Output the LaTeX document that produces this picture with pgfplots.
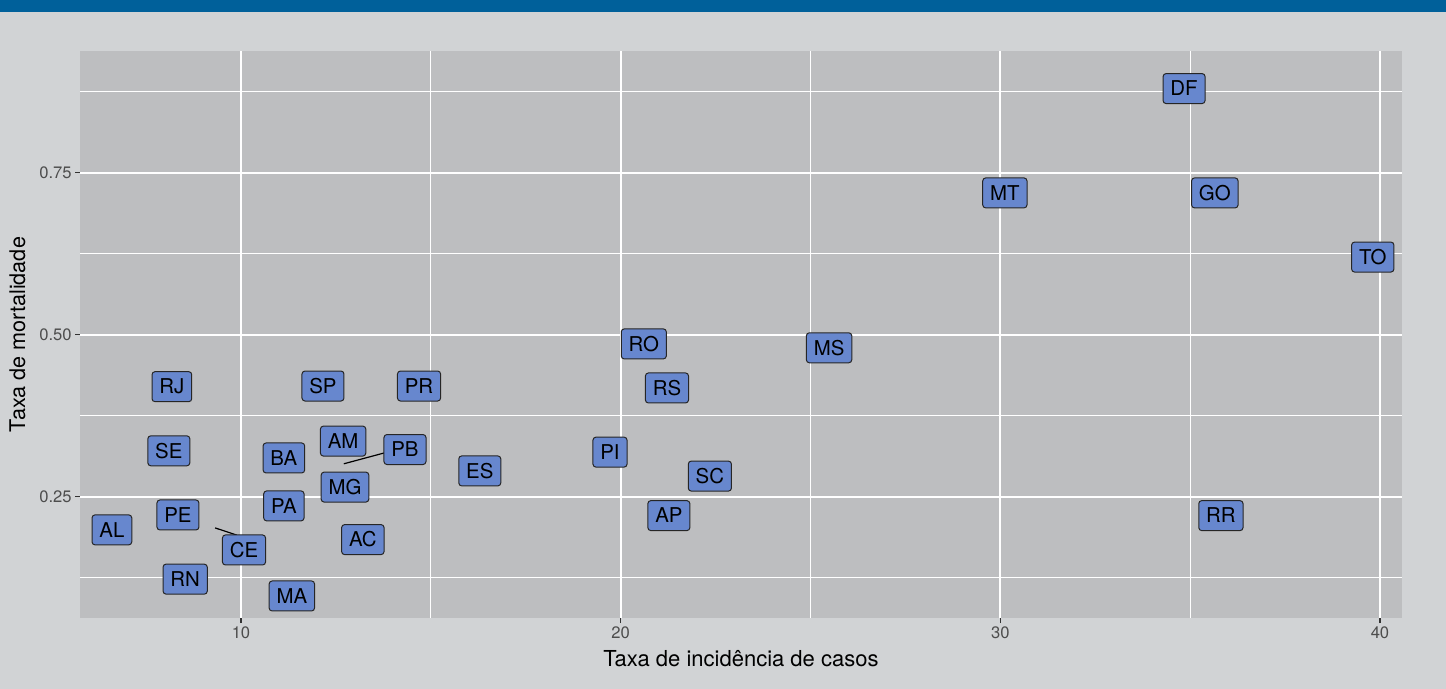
\documentclass[border=0pt]{standalone}
\usepackage{pgfplots}
\pgfplotsset{compat=1.18}
\usepackage{fontspec}
\setmainfont{TeX Gyre Heros}
\definecolor{bgout}{RGB}{209,211,213}
\definecolor{panel}{RGB}{189,190,192}
\definecolor{barblue}{RGB}{0,96,154}
\definecolor{lblue}{RGB}{103,135,206}
\definecolor{ticktext}{RGB}{77,77,77}

\begin{document}
\begin{tikzpicture}
  % page background and top bar (1 px of the reference = 0.5pt)
  \fill[bgout] (0,0) rectangle (723pt,-344.5pt);
  \fill[barblue] (0,0) rectangle (723pt,-6pt);
  \begin{axis}[
      at={(40pt,-25.5pt)}, anchor=north west,
      scale only axis, width=661pt, height=283.5pt,
      xmin=5.76, xmax=40.58, ymin=0.063, ymax=0.938,
      axis background/.style={fill=panel},
      axis line style={draw=none},
      xtick={10,20,30,40}, xticklabels={10,20,30,40},
      ytick={0.25,0.5,0.75}, yticklabels={0.25,0.50,0.75},
      minor xtick={15,25,35},
      minor ytick={0.125,0.375,0.625,0.875},
      grid=both,
      major grid style={white, line width=1pt},
      minor grid style={white, line width=0.5pt},
      tick align=outside, xtick pos=bottom, ytick pos=left,
      major tick length=2.5pt, minor tick length=0pt,
      tick style={black!80, line width=0.6pt},
      ticklabel style={font=\fontsize{8.3}{10}\selectfont, text=ticktext},
      yticklabel style={anchor=east, inner sep=0pt, xshift=-1.5pt},
      xticklabel style={anchor=north, inner sep=0pt, text height=6pt, yshift=-1.5pt},
      xlabel={Taxa de incidência de casos},
      ylabel={Taxa de mortalidade},
      every axis x label/.style={at={(axis description cs:0.5,0)}, anchor=base, yshift=-24pt,
        font=\fontsize{11}{13}\selectfont},
      every axis y label/.style={at={(axis description cs:-0.0473,0.5)}, anchor=center, rotate=90,
        font=\fontsize{10.8}{13}\selectfont},
    ]
    % repel segments
    \addplot[black, line width=0.6pt] coordinates {(9.32,0.202) (9.89,0.191)};
    \addplot[black, line width=0.6pt] coordinates {(12.71,0.301) (13.79,0.318)};
    % state labels
    \addplot[draw=none, mark=none, nodes near coords, point meta=explicit symbolic,
      nodes near coords style={anchor=center, fill=lblue, draw=black!85, line width=0.5pt,
        rounded corners=1.5pt, font=\fontsize{10.2}{12}\selectfont,
        text height=7.3pt, text depth=0pt, inner xsep=3.7pt, inner ysep=3.85pt}]
      coordinates {
        (34.84,0.880) [DF]
        (30.12,0.719) [MT]
        (35.65,0.719) [GO]
        (39.81,0.620) [TO]
        (20.61,0.486) [RO]
        (25.49,0.480) [MS]
        (8.18,0.420)  [RJ]
        (12.16,0.421) [SP]
        (14.69,0.421) [PR]
        (21.22,0.418) [RS]
        (8.10,0.321)  [SE]
        (19.72,0.319) [PI]
        (12.69,0.336) [AM]
        (14.32,0.323) [PB]
        (11.13,0.310) [BA]
        (16.29,0.290) [ES]
        (12.74,0.265) [MG]
        (22.35,0.282) [SC]
        (11.13,0.236) [PA]
        (6.60,0.199)  [AL]
        (8.34,0.222)  [PE]
        (21.27,0.221) [AP]
        (35.81,0.221) [RR]
        (13.21,0.184) [AC]
        (10.08,0.168) [CE]
        (8.53,0.123)  [RN]
        (11.34,0.097) [MA]
      };
  \end{axis}
\end{tikzpicture}
\end{document}
